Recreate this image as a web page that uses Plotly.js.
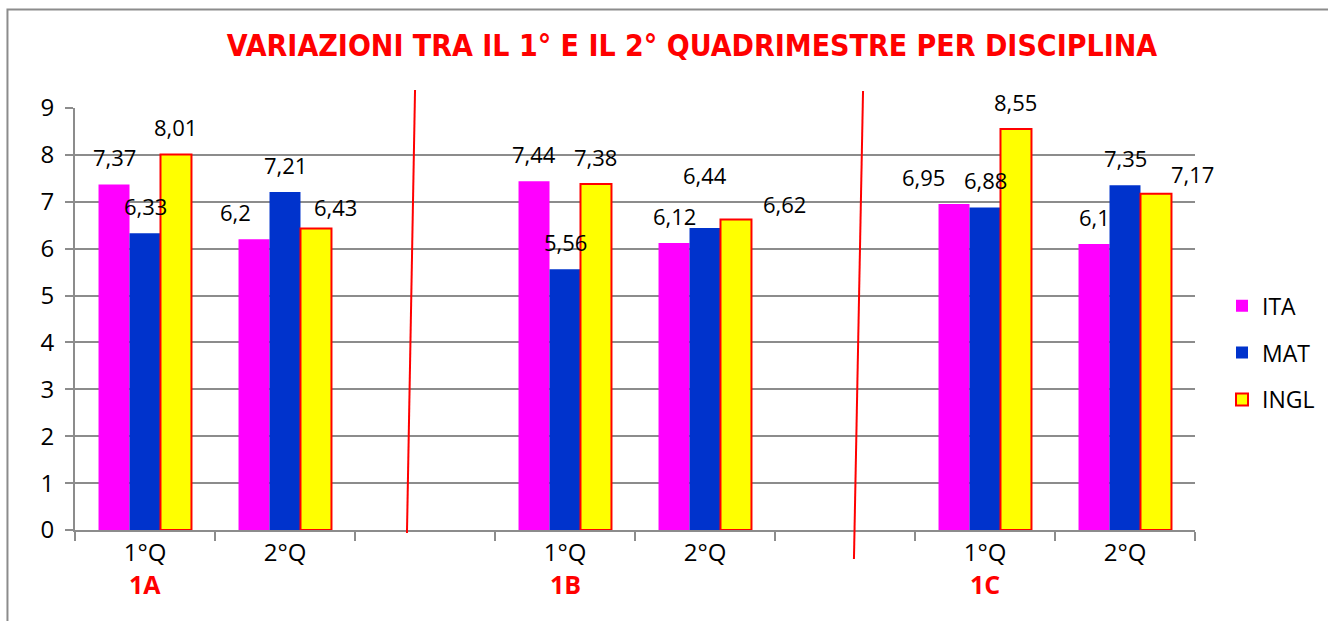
<!DOCTYPE html>
<html>
<head>
<meta charset="utf-8">
<script src="https://cdn.plot.ly/plotly-3.0.1.min.js"></script>
<style>
  html, body { margin: 0; padding: 0; background: #ffffff; }
  #chart { width: 1328px; height: 621px; }
</style>
</head>
<body>
<div id="chart"></div>
<script>
// ---------------- DATA ----------------
const classes = ['1A', '1B', '1C'];
const quarters = ['1°Q', '2°Q'];
const seriesNames = ['ITA', 'MAT', 'INGL'];
// values per class, per quarter [1°Q, 2°Q]
const ita  = { '1A': [7.37, 6.2],  '1B': [7.44, 6.12], '1C': [6.95, 6.1]  };
const mat  = { '1A': [6.33, 7.21], '1B': [5.56, 6.44], '1C': [6.88, 7.35] };
const ingl = { '1A': [8.01, 6.43], '1B': [7.38, 6.62], '1C': [8.55, 7.17] };
const titleText = 'VARIAZIONI TRA IL 1° E IL 2° QUADRIMESTRE PER DISCIPLINA';

// ---------------- STYLE ----------------
const colors = ['#FF00FF', '#0033CC', '#FFFF00'];
const lineColors = ['#FF00FF', '#0033CC', '#FF0000'];
const lineWidths = [0, 0, 2];
const gridGray = '#8c8c8c';
const FONT = '"Open Sans", "Noto Sans", sans-serif';
const BARGAP = 0.336;
const LABEL_RISE = 27;
// individual label nudges (px) keyed by series index-category index, as in the original
const labelNudge = {
  '0-1': [-19, 0], '2-1': [20, -5],
  '1-4': [0, 26],  '2-4': [49, -11],
  '0-6': [-31, 0], '2-7': [37, -7]
};

// ---------------- BUILD CATEGORIES ----------------
const catKeys = [];
const catText = [];
const classFirstIdx = [];
classes.forEach((c, ci) => {
  quarters.forEach((q, qi) => {
    if (qi === 0) classFirstIdx.push(catKeys.length);
    catKeys.push(c + '|' + q);
    catText.push(q);
  });
  if (ci < classes.length - 1) { catKeys.push('gap' + ci); catText.push(''); }
});

function seriesY(obj) {
  const ys = [];
  catKeys.forEach(k => {
    if (k.startsWith('gap')) { ys.push(null); return; }
    const [c, q] = k.split('|');
    ys.push(obj[c][quarters.indexOf(q)]);
  });
  return ys;
}
const seriesData = [ita, mat, ingl].map(seriesY);

const traces = seriesData.map((ys, si) => ({
  type: 'bar',
  name: seriesNames[si],
  x: catKeys,
  y: ys,
  legendgroup: seriesNames[si],
  marker: { color: colors[si], line: { color: lineColors[si], width: lineWidths[si] } },
  hoverinfo: 'skip'
}));

// ---------------- ANNOTATIONS ----------------
const barW = (1 - BARGAP) / seriesNames.length;
const annotations = [];
seriesData.forEach((ys, si) => {
  ys.forEach((v, ci) => {
    if (v === null) return;
    const n = labelNudge[si + '-' + ci] || [0, 0];
    annotations.push({
      x: ci + (si - 1) * barW, y: v, xref: 'x', yref: 'y',
      text: String(v).replace('.', ','),
      showarrow: false, xanchor: 'center', yanchor: 'middle',
      xshift: n[0], yshift: LABEL_RISE + n[1],
      font: { family: FONT, size: 22, color: '#000000' }
    });
  });
});
classes.forEach((c, i) => {
  annotations.push({
    x: classFirstIdx[i], y: 0, xref: 'x', yref: 'paper',
    text: '<b>' + c + '</b>', showarrow: false,
    xanchor: 'center', yanchor: 'middle', yshift: -54,
    font: { family: FONT, size: 25, color: '#FF0000' }
  });
});

// ---------------- SHAPES ----------------
const shapes = [
  { type: 'line', xref: 'paper', yref: 'paper', x0: 0.3036, y0: 1.0427, x1: 0.2964, y1: -0.0071,
    line: { color: '#FF0000', width: 2 } },
  { type: 'line', xref: 'paper', yref: 'paper', x0: 0.7036, y0: 1.0403, x1: 0.6955, y1: -0.0687,
    line: { color: '#FF0000', width: 2 } },
  { type: 'rect', xref: 'paper', yref: 'paper', x0: -0.0603, y0: 1.2334, x1: 1.6, y1: -0.6,
    line: { color: '#8c8c8c', width: 2 }, fillcolor: 'rgba(0,0,0,0)', layer: 'below' }
];

const layout = {
  width: 1328, height: 621,
  margin: { l: 75, r: 133, t: 108, b: 91 },
  paper_bgcolor: '#ffffff', plot_bgcolor: '#ffffff',
  barmode: 'group', bargap: BARGAP, bargroupgap: 0,
  showlegend: true,
  title: {
    text: '<b>' + titleText + '</b>',
    font: { family: '"Liberation Sans Narrow", "DejaVu Sans Condensed", sans-serif', size: 30, color: '#FF0000' },
    x: 692 / 1328, xref: 'container', xanchor: 'center',
    y: 1 - 45 / 621, yref: 'container', yanchor: 'middle'
  },
  xaxis: {
    type: 'category', categoryorder: 'array', categoryarray: catKeys,
    tickmode: 'array', tickvals: catKeys, ticktext: catText,
    tickson: 'boundaries', ticks: 'outside', ticklen: 9, tickwidth: 2, tickcolor: gridGray,
    showline: true, linecolor: gridGray, linewidth: 2,
    showgrid: false, zeroline: false,
    tickfont: { family: FONT, size: 24, color: '#000000' },
    range: [-0.5, catKeys.length - 0.5], fixedrange: true
  },
  yaxis: {
    range: [0, 9], dtick: 1, tick0: 0,
    ticks: 'outside', ticklen: 8, tickwidth: 2, tickcolor: gridGray,
    showline: true, linecolor: gridGray, linewidth: 2,
    showgrid: true, gridcolor: gridGray, gridwidth: 2,
    zeroline: false,
    tickfont: { family: FONT, size: 24, color: '#000000' },
    ticklabelstandoff: 6, fixedrange: true
  },
  legend: {
    x: 1222 / 1328, xref: 'container', xanchor: 'left',
    y: 0.42, yanchor: 'middle',
    font: { family: FONT, size: 23, color: '#000000' },
    traceorder: 'grouped', tracegroupgap: 14,
    itemwidth: 30, bgcolor: 'rgba(0,0,0,0)'
  },
  annotations: annotations,
  shapes: shapes,
  hovermode: false
};

Plotly.newPlot('chart', traces, layout, { displayModeBar: false, staticPlot: true });
</script>
</body>
</html>
